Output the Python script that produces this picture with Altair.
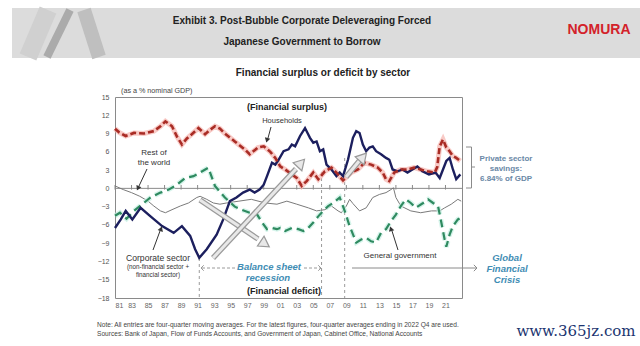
import altair as alt
import pandas as pd

# ---------------- data ----------------
hh_year = [1981.0, 1981.5, 1982.3, 1983.3, 1984.5, 1985.7, 1986.5, 1987.1, 1987.9, 1988.5, 1989.1, 1989.7,
           1990.3, 1991.1, 1991.9, 1992.5, 1993.1, 1993.7, 1994.3, 1995.5, 1996.7, 1997.3, 1998.3, 1999.0,
           1999.8, 2000.4, 2001.0, 2001.6, 2002.4, 2003.0, 2003.6, 2004.2, 2005.0, 2005.6, 2006.4, 2007.2,
           2007.8, 2008.6, 2009.6, 2010.4, 2011.2, 2012.0, 2012.8, 2013.4, 2013.8, 2014.2, 2014.8, 2015.6,
           2016.4, 2017.2, 2018.0, 2018.8, 2019.7, 2020.0, 2020.3, 2020.7, 2021.1, 2021.5, 2021.9, 2022.3, 2022.8]
hh_val = [9.8, 9.2, 8.6, 9.1, 9.0, 9.4, 10.2, 11.0, 10.2, 8.5, 7.2, 8.2,
          8.9, 9.9, 8.9, 9.6, 10.2, 9.8, 9.0, 7.7, 6.4, 5.6, 6.7, 6.9,
          6.0, 5.0, 3.6, 3.1, 2.3, 1.7, 0.4, 1.2, 2.6, 1.5, 2.8, 3.4,
          2.6, 1.3, 2.6, 3.1, 4.2, 3.9, 3.4, 2.6, 1.5, 1.2, 2.6, 3.1,
          3.1, 3.4, 3.1, 2.8, 2.6, 3.5, 6.9, 8.0, 6.7, 6.1, 5.3, 5.0, 4.5]

corp_year = [1981.0, 1981.7, 1982.3, 1983.1, 1984.1, 1985.3, 1986.7, 1988.1, 1989.1, 1990.1, 1990.7, 1991.2,
             1992.1, 1993.3, 1994.1, 1994.9, 1995.7, 1996.5, 1997.3, 1997.9, 1998.5, 1999.0, 1999.4, 2000.0,
             2000.4, 2000.8, 2001.4, 2002.0, 2002.4, 2002.8, 2003.4, 2004.0, 2004.6, 2005.0, 2005.4, 2005.8,
             2006.2, 2006.6, 2007.2, 2007.8, 2008.2, 2008.6, 2009.2, 2009.8, 2010.2, 2010.6, 2011.0, 2011.4,
             2011.8, 2012.2, 2012.6, 2013.2, 2013.8, 2014.2, 2014.6, 2015.2, 2015.8, 2016.4, 2017.0, 2017.6,
             2018.2, 2019.0, 2019.8, 2020.3, 2020.7, 2021.1, 2021.5, 2021.9, 2022.3, 2022.8]
corp_val = [-6.5, -5.1, -3.7, -5.1, -3.2, -4.6, -6.2, -7.3, -6.2, -7.8, -10.0, -11.4,
            -10.0, -7.6, -5.1, -2.1, -1.5, -0.7, -0.2, -0.7, -0.2, 0.6, 2.0, 4.2,
            3.9, 4.7, 6.1, 6.4, 7.2, 6.9, 8.6, 9.9, 8.3, 7.5, 7.7, 6.1,
            6.4, 3.9, 3.1, 2.0, 2.6, 2.0, 4.7, 8.3, 9.4, 9.1, 7.2, 6.1,
            6.7, 6.9, 6.1, 5.6, 5.0, 4.7, 3.1, 2.8, 3.1, 2.6, 3.1, 3.6,
            2.8, 2.3, 2.6, 1.7, 3.1, 4.5, 5.0, 3.1, 1.5, 2.3]

gov_year = [1981.0, 1981.6, 1982.4, 1983.3, 1984.3, 1985.3, 1986.5, 1987.5, 1988.5, 1989.5, 1990.5, 1991.3,
            1992.3, 1993.1, 1994.3, 1995.5, 1996.3, 1997.3, 1998.2, 1998.8, 1999.4, 2000.0, 2000.6, 2001.0,
            2001.6, 2002.4, 2003.2, 2003.8, 2004.4, 2005.0, 2005.6, 2006.2, 2006.8, 2007.4, 2008.2, 2008.8,
            2009.4, 2010.2, 2010.8, 2011.4, 2012.0, 2012.6, 2013.2, 2013.8, 2014.4, 2015.0, 2015.6, 2016.2,
            2016.8, 2017.4, 2018.3, 2018.9, 2019.5, 2020.1, 2020.5, 2020.9, 2021.1, 2021.5, 2021.9, 2022.5, 2022.9]
gov_val = [-4.5, -4.0, -5.0, -3.7, -2.6, -1.5, -0.7, -0.2, 0.6, 1.7, 2.0, 2.6,
           3.4, 0.4, -1.5, -3.0, -3.5, -4.0, -4.3, -5.6, -6.7, -6.5, -6.7, -6.5,
           -7.0, -6.5, -6.7, -7.0, -6.5, -5.6, -4.6, -3.7, -2.9, -2.4, -1.5, -3.7,
           -6.2, -8.9, -8.4, -8.1, -8.7, -8.9, -7.3, -6.7, -5.4, -4.3, -2.9, -1.8,
           -2.4, -3.2, -2.4, -1.8, -2.4, -2.9, -5.6, -8.4, -9.6, -7.6, -6.2, -5.1, -4.8]

row_year = [1981.0, 1982.0, 1983.0, 1984.0, 1985.0, 1985.7, 1986.5, 1987.1, 1987.9, 1988.9, 1989.9, 1990.9,
            1991.3, 1992.1, 1992.9, 1993.7, 1994.5, 1996.0, 1997.5, 1999.2, 2000.6, 2001.8, 2003.0, 2004.4,
            2005.4, 2006.4, 2007.2, 2008.0, 2008.4, 2009.0, 2009.4, 2009.8, 2010.6, 2011.4, 2012.2, 2013.0,
            2013.8, 2014.4, 2014.7, 2015.0, 2015.6, 2016.8, 2018.0, 2019.3, 2020.3, 2020.9, 2021.7, 2022.5, 2022.9]
row_val = [0.4, -0.2, -0.7, -1.3, -2.1, -2.9, -3.7, -4.0, -3.5, -2.9, -2.4, -1.5,
           -1.3, -1.8, -2.4, -2.6, -2.4, -2.1, -1.8, -2.4, -2.6, -2.1, -2.6, -3.2,
           -3.7, -3.5, -2.9, -3.7, -4.0, -2.9, -1.8, -2.5, -3.7, -3.2, -1.5, -1.0,
           -0.7, -0.2, 0.1, -1.5, -2.9, -3.7, -4.0, -3.7, -3.7, -3.2, -2.6, -1.8, -2.1]

x_ticks = [1981, 1983, 1985, 1987, 1989, 1991, 1993, 1995, 1997, 1999, 2001, 2003, 2005, 2007,
           2009, 2011, 2013, 2015, 2017, 2019, 2021]
y_ticks = [15, 12, 9, 6, 3, 0, -3, -6, -9, -12, -15, -18]
event_years = [1991.2, 2006.0, 2008.8]

# ---------------- layout ----------------
OX, OY = 115, 97          # plot origin in page pixels
W, H = 347, 201
FONT = "Liberation Sans"

dummy = pd.DataFrame({"d": [0]})

xs = alt.Scale(domain=[1981, 2023], nice=False, zero=False)
ys = alt.Scale(domain=[-18, 15], nice=False, zero=False)
XAX = alt.Axis(values=x_ticks, labelExpr="substring(toString(datum.value), 2)",
               grid=False, ticks=False, domain=False, labelFontSize=7, labelColor="#666",
               labelFont=FONT, labelPadding=3)
YAX = alt.Axis(values=y_ticks, grid=False, ticks=False, domain=False,
               labelFontSize=7, labelColor="#555", labelFont=FONT, labelPadding=6)


def X(field="year:Q"):
    return alt.X(field, scale=xs, axis=XAX, title=None)


def Y(field="value:Q"):
    return alt.Y(field, scale=ys, axis=YAX, title=None)


def series(years, vals):
    return pd.DataFrame({"year": years, "value": vals})


def line(df, **kw):
    return alt.Chart(df).mark_line(**kw).encode(x=X(), y=Y())


def txt(s, x, y, size=8, bold=False, italic=False, color="#222", align="center", font=FONT):
    return alt.Chart(dummy).mark_text(
        text=s, fontSize=size, fontWeight="bold" if bold else "normal",
        fontStyle="italic" if italic else "normal", color=color, align=align,
        baseline="middle", font=font,
    ).encode(x=alt.value(x - OX), y=alt.value(y - OY))


def seg(x1, y1, x2, y2, color="#333", width=1.0, dash=None):
    kw = dict(color=color, strokeWidth=width)
    if dash:
        kw["strokeDash"] = dash
    return alt.Chart(dummy).mark_rule(**kw).encode(
        x=alt.value(x1 - OX), y=alt.value(y1 - OY), x2=alt.value(x2 - OX), y2=alt.value(y2 - OY))


def head(x, y, angle, size=18, fill="#333", stroke="#333", shape="triangle-up", filled=True, sw=1):
    kw = dict(shape=shape, angle=angle, size=size, opacity=1, strokeWidth=sw)
    if filled:
        kw.update(filled=True, fill=fill, stroke=stroke)
    else:
        kw.update(filled=False, stroke=stroke, fill="transparent")
    return alt.Chart(dummy).mark_point(**kw).encode(x=alt.value(x - OX), y=alt.value(y - OY))


def rect(x1, y1, x2, y2, color):
    return alt.Chart(dummy).mark_rect(color=color).encode(
        x=alt.value(x1 - OX), y=alt.value(y1 - OY), x2=alt.value(x2 - OX), y2=alt.value(y2 - OY))


def hollow_arrow(x1, y1, x2, y2, tipx, tipy, angle):
    return [
        seg(x1, y1, x2, y2, color="#9a9a9a", width=5.5),
        seg(x1, y1, x2, y2, color="#e8e8e8", width=3),
        head(tipx, tipy, angle, size=140, fill="#e8e8e8", stroke="#9a9a9a", sw=1.2),
    ]


# ---------------- axes (base layer) ----------------
axis_layer = alt.Chart(pd.DataFrame({"year": x_ticks, "value": [0] * len(x_ticks)})).mark_point(opacity=0).encode(
    x=X(), y=Y())

zero_line = alt.Chart(pd.DataFrame({"value": [0]})).mark_rule(color="#8a8a8a", strokeWidth=1).encode(y=Y())
tick_df = pd.DataFrame({"year": x_ticks, "value": [0.55] * len(x_ticks), "value2": [-0.2] * len(x_ticks)})
zero_ticks = alt.Chart(tick_df).mark_rule(color="#8a8a8a", strokeWidth=1).encode(
    x=X(), y=Y(), y2="value2:Q")

event_layers = []
for yr, ytop in zip(event_years, [258, 172, 158]):
    event_layers.append(
        alt.Chart(pd.DataFrame({"year": [yr]})).mark_rule(color="#9a9a9a", strokeWidth=1, strokeDash=[3, 3]).encode(
            x=X(), y=alt.value(ytop - OY), y2=alt.value(H)))

# ---------------- series ----------------
df_hh = series(hh_year, hh_val)
df_corp = series(corp_year, corp_val)
df_gov = series(gov_year, gov_val)
df_row = series(row_year, row_val)

lines = [
    line(df_row, color="#7a7a7a", strokeWidth=1),
    line(df_gov, color="#c4efe3", strokeWidth=5, opacity=0.7, strokeDash=[8, 5]),
    line(df_gov, color="#2f8a60", strokeWidth=2.2, strokeDash=[8, 5]),
    line(df_hh, color="#f5b3ae", strokeWidth=5, opacity=0.7),
    line(df_corp, color="#1c1f5e", strokeWidth=2.4),
    line(df_hh, color="#a92c25", strokeWidth=2.6, strokeDash=[6, 3]),
]

# ---------------- header ----------------
header = [
    rect(12, 8, 640, 58, "#dcdcdc"),
    seg(28, 57, 48, 10, color="#d0d0d0", width=18),
    seg(47, 57, 70, 10, color="#ababab", width=8),
    seg(84, 10, 99, 57, color="#bfbfbf", width=14),
    txt("Exhibit 3. Post-Bubble Corporate Deleveraging Forced", 302, 21, size=10, bold=True),
    txt("Japanese Government to Borrow", 302, 42, size=10, bold=True),
    txt("NOMURA", 599, 30, size=14, bold=True, color="#d3222a"),
    txt("Financial surplus or deficit by sector", 323, 73, size=10, bold=True),
]

# ---------------- annotations ----------------
gfc_col = "#3f8db4"
ann = [
    txt("(as a % nominal GDP)", 121, 91, size=7.2, color="#444", align="left"),
    txt("(Financial surplus)", 287, 107, size=9, bold=True),
    txt("Households", 282, 121, size=7.5, color="#333"),
    seg(271, 127, 268, 138, color="#333", width=1),
    head(267, 140, 196, size=14),
    txt("Rest of", 154, 153, size=8, color="#333"),
    txt("the world", 154, 163, size=8, color="#333"),
    seg(147, 169, 139, 186, color="#333", width=1),
    head(138, 188, 205, size=14),
    txt("Corporate sector", 158, 258, size=8.6, color="#333"),
    txt("(non-financial sector +", 158, 267, size=6.3, color="#333"),
    txt("financial sector)", 158, 275, size=6.3, color="#333"),
    seg(153, 250, 160, 231, color="#333", width=1),
    head(161, 229, 20, size=14),
    txt("Balance sheet", 269, 267, size=9.5, italic=True, bold=True, color=gfc_col),
    txt("recession", 268, 278, size=9.5, italic=True, bold=True, color=gfc_col),
    seg(202, 268, 236, 268, color="#9a9a9a", width=1, dash=[3, 2]),
    head(201, 268, 180, size=30, shape="M-1,-1L0,0L-1,1", filled=False, stroke="#9a9a9a"),
    seg(304, 268, 320, 268, color="#9a9a9a", width=1, dash=[3, 2]),
    head(321, 268, 0, size=30, shape="M-1,-1L0,0L-1,1", filled=False, stroke="#9a9a9a"),
    txt("(Financial deficit)", 284, 291, size=9, bold=True),
    txt("General government", 400, 256, size=8, color="#333"),
    seg(398, 250, 392, 231, color="#333", width=1),
    head(391, 229, 342, size=14),
    seg(352, 268, 476, 268, color="#8a8a8a", width=1),
    head(477, 268, 0, size=40, shape="M-1,-1L0,0L-1,1", filled=False, stroke="#8a8a8a"),
    txt("Global", 507, 258, size=9.5, italic=True, bold=True, color=gfc_col),
    txt("Financial", 507, 269, size=9.5, italic=True, bold=True, color=gfc_col),
    txt("Crisis", 507, 280, size=9.5, italic=True, bold=True, color=gfc_col),
    seg(471.5, 147, 471.5, 188, color="#8a8a8a", width=1),
    seg(466, 147, 471.5, 147, color="#8a8a8a", width=1),
    seg(466, 188, 471.5, 188, color="#8a8a8a", width=1),
    seg(471.5, 167, 475, 167, color="#8a8a8a", width=1),
    txt("Private sector", 506, 159, size=8, bold=True, color="#6a88a6"),
    txt("savings:", 506, 169, size=8, bold=True, color="#6a88a6"),
    txt("6.84% of GDP", 506, 179, size=8, bold=True, color="#6a88a6"),
    txt("Note: All entries are four-quarter moving averages. For the latest figures, four-quarter averages ending in 2022 Q4 are used.",
        97, 325, size=6.6, color="#444", align="left"),
    txt("Sources: Bank of Japan, Flow of Funds Accounts, and Government of Japan, Cabinet Office, National Accounts",
        97, 334, size=6.6, color="#444", align="left"),
    txt("www.365jz.com", 576, 331, size=15, color="#1b3570", font="DejaVu Serif"),
]

arrows = []
arrows += hollow_arrow(200, 200, 258, 239, 265, 244, 124)
arrows += hollow_arrow(213, 258, 296, 169, 301, 163, 43)
arrows += hollow_arrow(346, 177, 360, 160, 363, 157, 42)

chart = alt.layer(
    *header, axis_layer, zero_line, zero_ticks, *event_layers, *lines, *arrows, *ann
).properties(
    width=W, height=H,
    padding={"left": OX, "top": OY, "right": 640 - OX - W, "bottom": 346 - OY - H},
    autosize=alt.AutoSizeParams(type="none"),
    background="white",
).configure_view(stroke="#8a8a8a", strokeWidth=1)

chart.save("out.html", embed_options={"renderer": "svg", "actions": False})
